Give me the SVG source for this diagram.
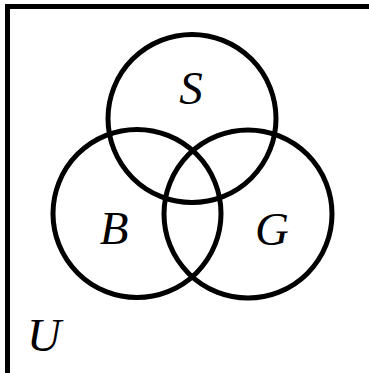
<svg xmlns="http://www.w3.org/2000/svg" width="369" height="373" viewBox="0 0 369 373">
  <style>
    .set { fill: none; stroke: #000; stroke-width: 5; }
    .lbl { font-family: "Liberation Serif", "Times New Roman", serif; font-style: italic; font-size: 47px; fill: #000; text-anchor: middle; }
  </style>
  <rect x="0" y="0" width="369" height="373" fill="#fff"/>
  <g id="universe">
    <rect class="set" x="7.5" y="6.5" width="420" height="420"/>
    <text class="lbl" x="44" y="351">U</text>
  </g>
  <g id="set-S">
    <circle class="set" cx="192" cy="118.5" r="84"/>
    <text class="lbl" x="191" y="104">S</text>
  </g>
  <g id="set-B">
    <circle class="set" cx="137" cy="213.5" r="84"/>
    <text class="lbl" x="114" y="244">B</text>
  </g>
  <g id="set-G">
    <circle class="set" cx="248" cy="214" r="84"/>
    <text class="lbl" x="272" y="245">G</text>
  </g>
  <g id="connectors"></g>
</svg>
